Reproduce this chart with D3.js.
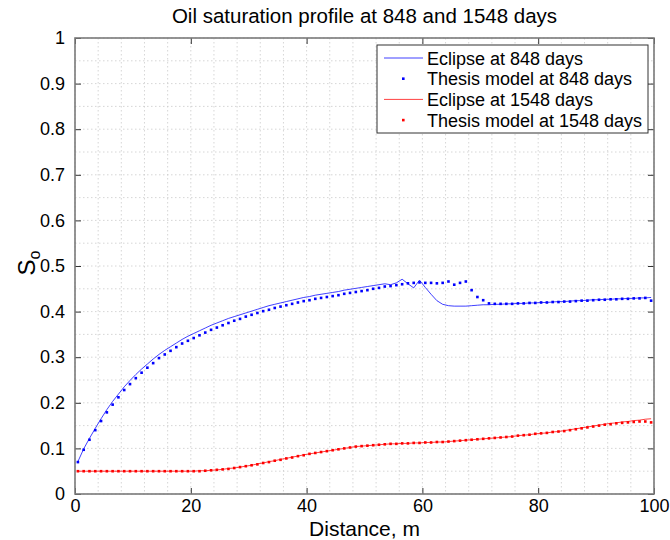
<!DOCTYPE html>
<html>
<head>
<meta charset="utf-8">
<script src="https://cdn.jsdelivr.net/npm/d3@7"></script>
<style>
  body { margin: 0; background: #fff; }
  svg { display: block; font-family: "Liberation Sans", Arial, sans-serif; }
</style>
</head>
<body>
<svg id="chart" width="670" height="540"></svg>
<script>
// cell centres along the model, m
const distance = [
  0.5, 1.5, 2.5, 3.5, 4.5, 5.5, 6.5, 7.5, 8.5, 9.5, 10.5, 11.5, 12.5, 13.5, 14.5, 15.5, 16.5, 17.5, 18.5, 19.5,
  20.5, 21.5, 22.5, 23.5, 24.5, 25.5, 26.5, 27.5, 28.5, 29.5, 30.5, 31.5, 32.5, 33.5, 34.5, 35.5, 36.5, 37.5, 38.5, 39.5,
  40.5, 41.5, 42.5, 43.5, 44.5, 45.5, 46.5, 47.5, 48.5, 49.5, 50.5, 51.5, 52.5, 53.5, 54.5, 55.5, 56.5, 57.5, 58.5, 59.5,
  60.5, 61.5, 62.5, 63.5, 64.5, 65.5, 66.5, 67.5, 68.5, 69.5, 70.5, 71.5, 72.5, 73.5, 74.5, 75.5, 76.5, 77.5, 78.5, 79.5,
  80.5, 81.5, 82.5, 83.5, 84.5, 85.5, 86.5, 87.5, 88.5, 89.5, 90.5, 91.5, 92.5, 93.5, 94.5, 95.5, 96.5, 97.5, 98.5, 99.5
];

const eclipse848 = [
  0.071, 0.099, 0.122, 0.144, 0.165, 0.185, 0.203, 0.219, 0.235, 0.249, 0.262, 0.274, 0.285, 0.296, 0.306, 0.315, 0.323, 0.331, 0.339, 0.346,
  0.352, 0.358, 0.364, 0.370, 0.375, 0.380, 0.385, 0.389, 0.393, 0.397, 0.401, 0.405, 0.409, 0.413, 0.416, 0.419, 0.422, 0.425, 0.428, 0.431,
  0.433, 0.436, 0.438, 0.440, 0.442, 0.444, 0.447, 0.449, 0.451, 0.453, 0.455, 0.457, 0.459, 0.461, 0.459, 0.463, 0.471, 0.461, 0.452, 0.469,
  0.453, 0.438, 0.424, 0.416, 0.413, 0.412, 0.412, 0.412, 0.413, 0.414, 0.415, 0.415, 0.416, 0.416, 0.417, 0.417, 0.418, 0.418, 0.419, 0.419,
  0.420, 0.420, 0.421, 0.422, 0.422, 0.423, 0.424, 0.424, 0.425, 0.426, 0.426, 0.427, 0.427, 0.428, 0.428, 0.429, 0.429, 0.430, 0.430, 0.431
];

const thesis848 = [
  0.070, 0.097, 0.119, 0.140, 0.160, 0.179, 0.196, 0.212, 0.228, 0.241, 0.254, 0.266, 0.277, 0.287, 0.298, 0.306, 0.314, 0.322, 0.330, 0.336,
  0.342, 0.348, 0.354, 0.360, 0.365, 0.370, 0.375, 0.380, 0.384, 0.389, 0.393, 0.397, 0.401, 0.404, 0.408, 0.411, 0.414, 0.417, 0.420, 0.423,
  0.425, 0.428, 0.430, 0.432, 0.434, 0.436, 0.439, 0.441, 0.443, 0.445, 0.447, 0.450, 0.452, 0.455, 0.456, 0.458, 0.460, 0.462, 0.463, 0.464,
  0.463, 0.463, 0.462, 0.463, 0.466, 0.459, 0.463, 0.466, 0.447, 0.432, 0.425, 0.418, 0.417, 0.417, 0.417, 0.417, 0.418, 0.418, 0.419, 0.419,
  0.420, 0.420, 0.421, 0.421, 0.422, 0.422, 0.423, 0.424, 0.424, 0.425, 0.426, 0.426, 0.427, 0.427, 0.428, 0.428, 0.429, 0.429, 0.430, 0.424
];

const eclipse1548 = [
  0.050, 0.050, 0.050, 0.050, 0.050, 0.050, 0.050, 0.050, 0.050, 0.050, 0.050, 0.050, 0.050, 0.050, 0.050, 0.050, 0.050, 0.050, 0.050, 0.050,
  0.050, 0.051, 0.051, 0.052, 0.053, 0.054, 0.056, 0.057, 0.059, 0.061, 0.063, 0.066, 0.068, 0.071, 0.073, 0.076, 0.078, 0.081, 0.083, 0.086,
  0.088, 0.090, 0.092, 0.094, 0.096, 0.098, 0.100, 0.102, 0.104, 0.105, 0.106, 0.107, 0.108, 0.109, 0.110, 0.110, 0.111, 0.111, 0.112, 0.112,
  0.113, 0.113, 0.114, 0.114, 0.115, 0.116, 0.117, 0.118, 0.119, 0.120, 0.121, 0.122, 0.123, 0.124, 0.125, 0.126, 0.128, 0.129, 0.130, 0.132,
  0.133, 0.134, 0.136, 0.137, 0.139, 0.141, 0.143, 0.145, 0.147, 0.149, 0.151, 0.153, 0.155, 0.156, 0.158, 0.159, 0.161, 0.162, 0.164, 0.165
];

const thesis1548 = [
  0.050, 0.050, 0.050, 0.050, 0.050, 0.050, 0.050, 0.050, 0.050, 0.050, 0.050, 0.050, 0.050, 0.050, 0.050, 0.050, 0.050, 0.050, 0.050, 0.050,
  0.050, 0.050, 0.051, 0.052, 0.053, 0.054, 0.055, 0.057, 0.059, 0.061, 0.063, 0.065, 0.068, 0.070, 0.073, 0.075, 0.078, 0.080, 0.083, 0.085,
  0.088, 0.090, 0.092, 0.094, 0.096, 0.098, 0.100, 0.102, 0.104, 0.105, 0.106, 0.107, 0.108, 0.109, 0.110, 0.110, 0.111, 0.111, 0.112, 0.112,
  0.113, 0.113, 0.114, 0.114, 0.115, 0.116, 0.117, 0.118, 0.119, 0.120, 0.121, 0.122, 0.123, 0.124, 0.125, 0.126, 0.128, 0.129, 0.130, 0.132,
  0.133, 0.134, 0.136, 0.137, 0.138, 0.140, 0.142, 0.144, 0.146, 0.148, 0.150, 0.152, 0.153, 0.155, 0.156, 0.157, 0.158, 0.159, 0.159, 0.157
];

const xTicks = [0, 20, 40, 60, 80, 100];
const yTicks = [0, 0.1, 0.2, 0.3, 0.4, 0.5, 0.6, 0.7, 0.8, 0.9, 1];
const xMinor = [4, 8, 12, 16, 24, 28, 32, 36, 44, 48, 52, 56, 64, 68, 72, 76, 84, 88, 92, 96];
const yMinor = [0.05, 0.15, 0.25, 0.35, 0.45, 0.55, 0.65, 0.75, 0.85, 0.95];

const series = [
  { name: "Eclipse at 848 days", values: eclipse848, color: "#0000ff", kind: "line" },
  { name: "Thesis model at 848 days", values: thesis848, color: "#0000ff", kind: "dot" },
  { name: "Eclipse at 1548 days", values: eclipse1548, color: "#ff0000", kind: "line" },
  { name: "Thesis model at 1548 days", values: thesis1548, color: "#ff0000", kind: "dot" }
];

const margin = { left: 75, right: 16, top: 38, bottom: 46 };
const svg = d3.select("#chart");
const W = +svg.attr("width"), H = +svg.attr("height");
const width = W - margin.left - margin.right;
const height = H - margin.top - margin.bottom;

const g = svg.append("g").attr("transform", `translate(${margin.left},${margin.top})`);

const x = d3.scaleLinear().domain([0, 100]).range([0, width]);
const y = d3.scaleLinear().domain([0, 1]).range([height, 0]);

// grid, major and minor, both dotted
const grid = g.append("g").attr("stroke", "#cccccc").attr("stroke-dasharray", "1.5,2.5").attr("stroke-width", 0.8);
grid.selectAll(".vx").data(xTicks.concat(xMinor)).enter().append("line")
  .attr("x1", d => x(d)).attr("x2", d => x(d)).attr("y1", 0).attr("y2", height);
grid.selectAll(".hy").data(yTicks.concat(yMinor)).enter().append("line")
  .attr("x1", 0).attr("x2", width).attr("y1", d => y(d)).attr("y2", d => y(d));

// curves
const line = d3.line().x((d, i) => x(distance[i])).y(d => y(d));
series.filter(s => s.kind === "line").forEach(s => {
  g.append("path").datum(s.values)
    .attr("fill", "none")
    .attr("stroke", s.color)
    .attr("stroke-opacity", 0.75)
    .attr("stroke-width", 1)
    .attr("d", line);
});
series.filter(s => s.kind === "dot").forEach(s => {
  g.append("g").selectAll("rect").data(s.values).enter().append("rect")
    .attr("x", (d, i) => x(distance[i]) - 1.3)
    .attr("y", d => y(d) - 1.3)
    .attr("width", 2.6).attr("height", 2.6)
    .attr("fill", s.color);
});

// axes: inward ticks on all four sides
const tickLen = 6;
const xb = g.append("g").attr("transform", `translate(0,${height})`)
  .call(d3.axisBottom(x).tickValues(xTicks).tickSizeInner(-tickLen).tickSizeOuter(0).tickPadding(5).tickFormat(d3.format("d")));
const xt = g.append("g")
  .call(d3.axisTop(x).tickValues(xTicks).tickSizeInner(-tickLen).tickSizeOuter(0).tickFormat(""));
const yl = g.append("g")
  .call(d3.axisLeft(y).tickValues(yTicks).tickSizeInner(-tickLen).tickSizeOuter(0).tickPadding(10).tickFormat(d => d === 0 || d === 1 ? d3.format("d")(d) : d3.format(".1f")(d)));
const yr = g.append("g").attr("transform", `translate(${width},0)`)
  .call(d3.axisRight(y).tickValues(yTicks).tickSizeInner(-tickLen).tickSizeOuter(0).tickFormat(""));

[xb, xt, yl, yr].forEach(a => {
  a.select(".domain").remove();
  a.selectAll(".tick line").attr("stroke", "#333").attr("stroke-width", 1);
  a.selectAll("text").attr("fill", "#000").style("font-size", "18px").style("font-family", "Liberation Sans, Arial, sans-serif");
});

g.append("rect")
  .attr("width", width).attr("height", height)
  .attr("fill", "none").attr("stroke", "#7a7a7a").attr("stroke-width", 1.6);

// labels
svg.append("text")
  .attr("x", margin.left + width / 2).attr("y", 23)
  .attr("text-anchor", "middle").style("font-size", "20.5px")
  .text("Oil saturation profile at 848 and 1548 days");

svg.append("text")
  .attr("x", margin.left + width / 2).attr("y", 536)
  .attr("text-anchor", "middle").style("font-size", "21px")
  .text("Distance, m");

const yLab = svg.append("text")
  .attr("transform", `translate(35,${margin.top + height / 2 - 3}) rotate(-90)`)
  .attr("text-anchor", "middle").style("font-size", "24px");
yLab.append("tspan").text("S");
yLab.append("tspan").attr("dy", 5).style("font-size", "16px").text("o");

// legend
const lg = svg.append("g").attr("transform", "translate(377,45)");
lg.append("rect").attr("width", 271).attr("height", 88)
  .attr("fill", "#fff").attr("stroke", "#333").attr("stroke-width", 1);
series.forEach((s, i) => {
  const cy = 13 + i * 20.7;
  if (s.kind === "line") {
    lg.append("line").attr("x1", 7).attr("x2", 46).attr("y1", cy).attr("y2", cy)
      .attr("stroke", s.color).attr("stroke-opacity", 0.75).attr("stroke-width", 1);
  } else {
    lg.append("rect").attr("x", 25).attr("y", cy - 1.3).attr("width", 2.6).attr("height", 2.6).attr("fill", s.color);
  }
  lg.append("text").attr("x", 50).attr("y", cy + 6.5)
    .style("font-size", "18px").text(s.name);
});
</script>
</body>
</html>
